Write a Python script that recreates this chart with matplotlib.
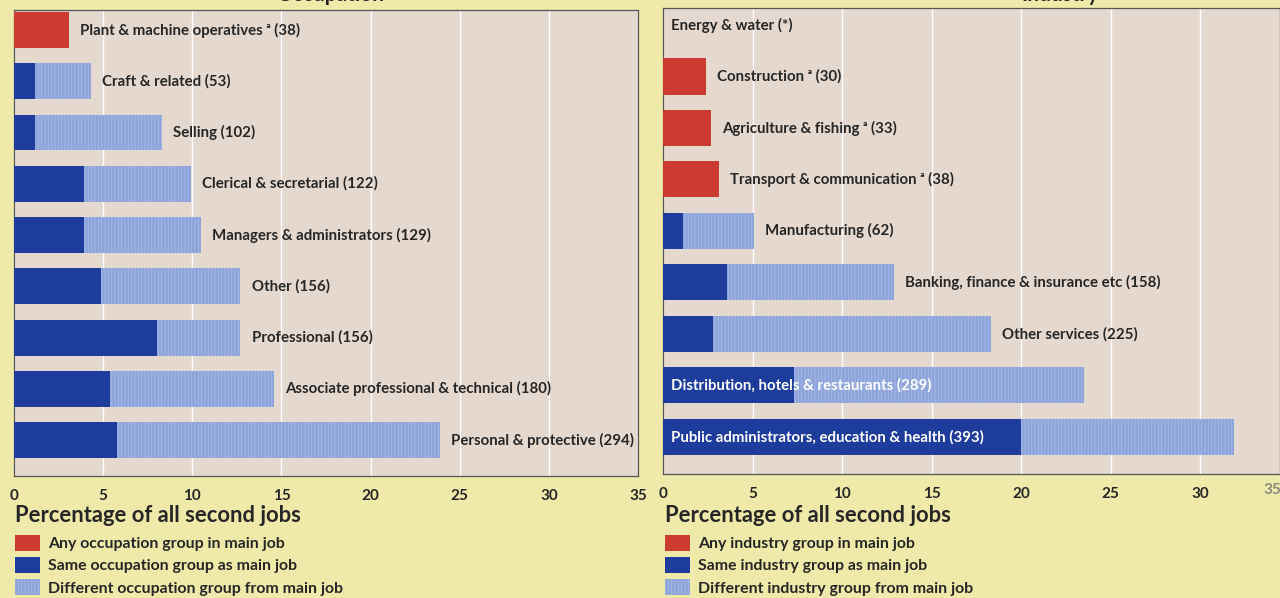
import matplotlib
matplotlib.use("Agg")
import matplotlib.pyplot as plt
from matplotlib.patches import Patch

plt.rcParams['font.family'] = ['Lato', 'DejaVu Sans']
plt.rcParams['font.weight'] = 'bold'
plt.rcParams['hatch.linewidth'] = 0.6

# Occupation panel
occ_labels = ["Plant & machine operatives \u1d43", "Craft & related", "Selling",
              "Clerical & secretarial", "Managers & administrators", "Other",
              "Professional", "Associate professional & technical",
              "Personal & protective"]
occ_n = ["38", "53", "102", "122", "129", "156", "156", "180", "294"]
occ_any = [3.1, 0, 0, 0, 0, 0, 0, 0, 0]
occ_same = [0, 1.2, 1.2, 3.9, 3.9, 4.9, 8.0, 5.4, 5.8]
occ_diff = [0, 3.1, 7.1, 6.0, 6.6, 7.8, 4.7, 9.2, 18.1]
occ_inside = [False] * 9

# Industry panel
ind_labels = ["Energy & water", "Construction \u1d43", "Agriculture & fishing \u1d43",
              "Transport & communication \u1d43", "Manufacturing",
              "Banking, finance & insurance etc", "Other services",
              "Distribution, hotels & restaurants",
              "Public administrators, education & health"]
ind_n = ["*", "30", "33", "38", "62", "158", "225", "289", "393"]
ind_any = [0, 2.4, 2.7, 3.1, 0, 0, 0, 0, 0]
ind_same = [0, 0, 0, 0, 1.1, 3.6, 2.8, 7.3, 20.0]
ind_diff = [0, 0, 0, 0, 4.0, 9.3, 15.5, 16.2, 11.9]
ind_inside = [False, False, False, False, False, False, False, True, True]

ticks = [0, 5, 10, 15, 20, 25, 30]

RED = "#cb3b2f"
DARK = "#1e3c9c"
LIGHT = "#8ea5dc"
BG = "#e4d8cf"
FIG_BG = "#efeaa9"
TXT = "#262626"

fig = plt.figure(figsize=(12.8, 5.98), dpi=100)
fig.patch.set_facecolor(FIG_BG)

W, H = 1280, 598


def panel(rect, xmax, ylim, labels, counts, any_v, same_v, diff_v, inside):
    ax = fig.add_axes(rect)
    ax.set_facecolor(BG)
    pos = list(range(len(labels)))
    ax.barh(pos, any_v, height=0.7, color=RED, zorder=3)
    ax.barh(pos, same_v, height=0.7, color=DARK, zorder=3)
    ax.barh(pos, diff_v, left=same_v, height=0.7, color=LIGHT,
            edgecolor="#a6b8e6", hatch="|||||", linewidth=0, zorder=3)
    for i in pos:
        total = any_v[i] + same_v[i] + diff_v[i]
        txt = f"{labels[i]} ({counts[i]})"
        if inside[i] or total == 0:
            col = "white" if inside[i] else TXT
            ax.text(0.45, i, txt, va="center", ha="left", fontsize=10.8,
                    color=col, zorder=4)
        else:
            ax.annotate(txt, (total, i), xytext=(8, 0),
                        textcoords="offset points", va="center", ha="left",
                        fontsize=10.8, color=TXT, zorder=4)
    ax.set_xlim(0, xmax)
    ax.set_ylim(*ylim)
    ax.set_yticks([])
    ax.set_xticks([t for t in ticks if t < xmax])
    ax.tick_params(axis="x", length=0, pad=9, labelsize=11, labelcolor=TXT)
    ax.grid(axis="x", color="white", linewidth=1.0, zorder=1)
    for s in ax.spines.values():
        s.set_color("#555555")
        s.set_linewidth(0.9)
    return ax


ax1 = panel([14 / W, 1 - 476 / H, 624 / W, 466 / H], 35, (8.70, -0.39),
            occ_labels, occ_n, occ_any, occ_same, occ_diff, occ_inside)
ax1.set_xticks(ticks + [35])
ax1.tick_params(axis="x", length=0, pad=9, labelsize=11, labelcolor=TXT)

ax2 = panel([663 / W, 1 - 474 / H, 617 / W, 466 / H], 34.45, (8.72, -0.33),
            ind_labels, ind_n, ind_any, ind_same, ind_diff, ind_inside)
fig.text(1272 / W, 1 - 490 / H, "35", ha="center", va="center",
         fontsize=11, color="#8a8a80")

# panel titles, cut off at the top edge as in the scan
fig.text(330 / W, 1 - 1 / H, "Occupation", ha="center", va="baseline",
         fontsize=15, color=TXT)
fig.text(1060 / W, 1 - 1 / H, "Industry", ha="center", va="baseline",
         fontsize=15, color=TXT)

for x0, grp in [(15, "occupation"), (665, "industry")]:
    fig.text(x0 / W, 1 - 516 / H, "Percentage of all second jobs",
             ha="left", va="center", fontsize=15.8, color=TXT)
    handles = [Patch(facecolor=RED, edgecolor="none"),
               Patch(facecolor=DARK, edgecolor="none"),
               Patch(facecolor=LIGHT, edgecolor="#a6b8e6", hatch="|||||",
                     linewidth=0)]
    names = [f"Any {grp} group in main job",
             f"Same {grp} group as main job",
             f"Different {grp} group from main job"]
    fig.legend(handles, names, loc="upper left",
               bbox_to_anchor=(x0 / W, 1 - 535 / H), frameon=False,
               fontsize=11.4, handlelength=1.6, handleheight=1.15,
               handletextpad=0.5, labelspacing=0.38, borderpad=0,
               borderaxespad=0, labelcolor=TXT)

fig.savefig("out.png", dpi=100, facecolor=fig.get_facecolor())
